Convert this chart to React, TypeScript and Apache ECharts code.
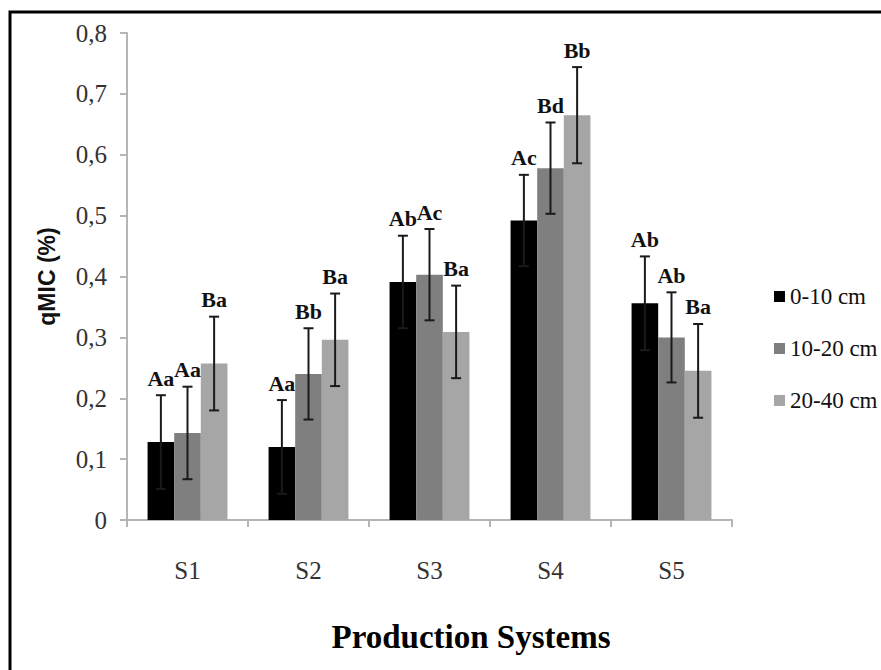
import React, { useEffect, useRef } from "react";
import * as echarts from "echarts";

const categories = ["S1", "S2", "S3", "S4", "S5"];
const seriesNames = ["0-10 cm", "10-20 cm", "20-40 cm"];
const depth0 = [0.128, 0.12, 0.391, 0.492, 0.356];
const depth1 = [0.143, 0.24, 0.403, 0.578, 0.3];
const depth2 = [0.257, 0.296, 0.309, 0.665, 0.245];
const err0 = [0.077, 0.077, 0.076, 0.075, 0.077];
const err1 = [0.076, 0.075, 0.075, 0.075, 0.074];
const err2 = [0.077, 0.076, 0.076, 0.079, 0.077];
const letters0 = ["Aa", "Aa", "Ab", "Ac", "Ab"];
const letters1 = ["Aa", "Bb", "Ac", "Bd", "Ab"];
const letters2 = ["Ba", "Ba", "Ba", "Bb", "Ba"];
const yTicks = [0, 0.1, 0.2, 0.3, 0.4, 0.5, 0.6, 0.7, 0.8];

const colors = ["#000000", "#7f7f7f", "#a6a6a6"];
const values = [depth0, depth1, depth2];
const errors = [err0, err1, err2];
const letters = [letters0, letters1, letters2];

const CATEGORY_GAP = 0.34;
const SERIF = "Liberation Serif, Times New Roman, serif";
const SANS = "Liberation Sans, Arial, sans-serif";

export default function App() {
  const ref = useRef<HTMLDivElement>(null);
  useEffect(() => {
    if (!ref.current) return;
    const chart = echarts.init(ref.current, undefined, { renderer: "svg" });

    const barSeries = values.map((vals, k) => ({
      name: seriesNames[k],
      type: "bar",
      data: vals,
      barGap: "0%",
      barCategoryGap: CATEGORY_GAP * 100 + "%",
      itemStyle: { color: colors[k] },
      z: 2,
    }));

    const errSeries = values.map((vals, k) => ({
      type: "custom",
      name: "err" + k,
      z: 5,
      silent: true,
      data: vals.map((v, i) => [i, v, errors[k][i]]),
      encode: { x: 0, y: 1 },
      renderItem: (params: any, api: any) => {
        const i = api.value(0);
        const v = api.value(1);
        const e = api.value(2);
        const lbl = letters[k][params.dataIndex];
        const band = api.size([1, 0])[0];
        const bw = (band * (1 - CATEGORY_GAP)) / 3;
        const cx = api.coord([i, v])[0] + (k - 1) * bw;
        const yTop = api.coord([i, v + e])[1];
        const yLow = api.coord([i, v - e])[1];
        const cap = 5;
        const ls = { stroke: "#1a1a1a", lineWidth: 2 };
        return {
          type: "group",
          children: [
            { type: "line", shape: { x1: cx, y1: yTop, x2: cx, y2: yLow }, style: ls },
            { type: "line", shape: { x1: cx - cap, y1: yTop, x2: cx + cap, y2: yTop }, style: ls },
            { type: "line", shape: { x1: cx - cap, y1: yLow, x2: cx + cap, y2: yLow }, style: ls },
            {
              type: "text",
              style: {
                text: lbl,
                x: cx,
                y: yTop - 6,
                align: "center",
                verticalAlign: "bottom",
                fill: "#111",
                font: "bold 22px " + SERIF,
              },
            },
          ],
        };
      },
    }));

    chart.setOption({
      animation: false,
      grid: { left: 127, right: 149, top: 33, bottom: 150, containLabel: false },
      legend: {
        data: seriesNames,
        orient: "vertical",
        left: 769,
        top: 280,
        itemWidth: 11,
        itemHeight: 11,
        itemGap: 29,
        icon: "rect",
        textStyle: { fontFamily: SERIF, fontSize: 23, color: "#111" },
      },
      xAxis: {
        type: "category",
        data: categories,
        axisLine: { lineStyle: { color: "#b5b5b5", width: 2 } },
        axisTick: { show: true, length: 7, lineStyle: { color: "#b5b5b5", width: 2 } },
        axisLabel: {
          margin: 38,
          fontFamily: SERIF,
          fontSize: 25,
          color: "#333",
        },
      },
      yAxis: {
        type: "value",
        min: 0,
        max: 0.8,
        interval: 0.1,
        name: "qMIC (%)",
        nameLocation: "middle",
        nameGap: 69,
        nameTextStyle: {
          fontFamily: SANS,
          fontWeight: "bold",
          fontSize: 23,
          color: "#111",
        },
        axisLine: { show: true, lineStyle: { color: "#b5b5b5", width: 2 } },
        axisTick: { show: true, length: 7, lineStyle: { color: "#b5b5b5", width: 2 } },
        splitLine: { show: false },
        axisLabel: {
          margin: 20,
          fontFamily: SERIF,
          fontSize: 25,
          color: "#333",
          formatter: (v: number) => {
            const t = yTicks.find((x) => Math.abs(x - v) < 1e-9);
            const val = t === undefined ? v : t;
            return val === 0 ? "0" : val.toFixed(1).replace(".", ",");
          },
        },
      },
      graphic: [
        {
          type: "rect",
          shape: { x: 10, y: 12, width: 900, height: 700 },
          style: { fill: "none", stroke: "#000", lineWidth: 3 },
          silent: true,
        },
        {
          type: "text",
          x: 471,
          y: 637,
          style: {
            text: "Production Systems",
            align: "center",
            verticalAlign: "middle",
            fill: "#000",
            font: "bold 33px " + SERIF,
          },
        },
      ],
      series: [...barSeries, ...errSeries],
    });
    return () => chart.dispose();
  }, []);
  return (
    <div
      ref={ref}
      style={{ position: "absolute", left: 0, top: 0, width: 881, height: 670, background: "#fff" }}
    />
  );
}
